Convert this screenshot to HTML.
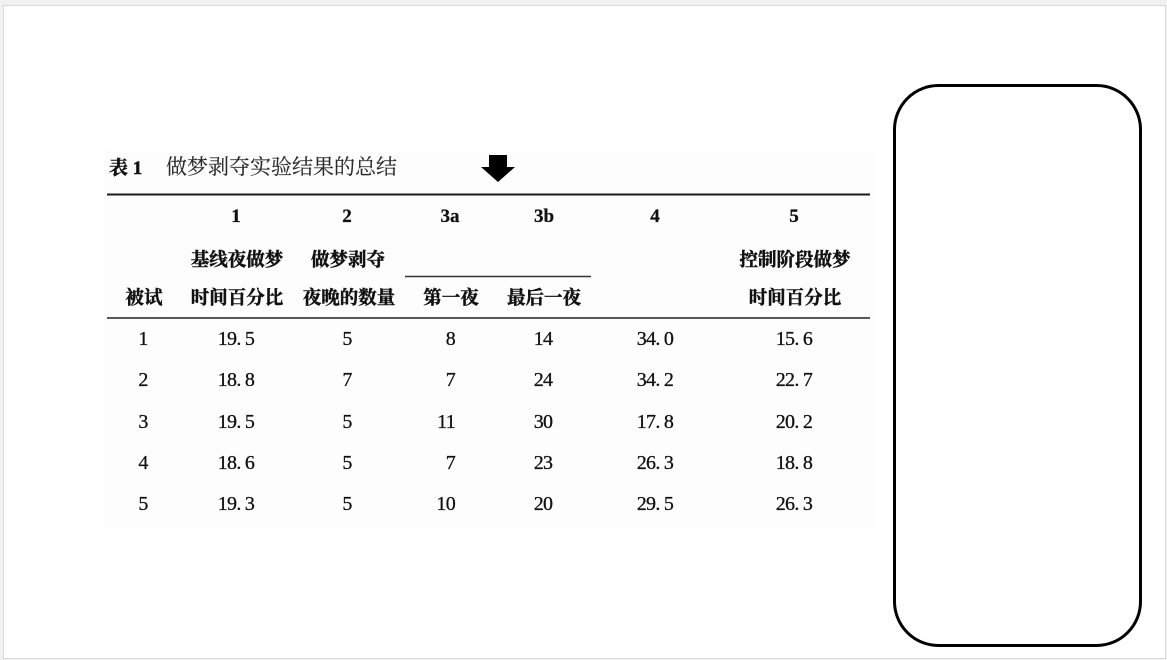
<!DOCTYPE html>
<html lang="zh">
<head>
<meta charset="utf-8">
<title>做梦剥夺实验结果的总结</title>
<style>
html,body{margin:0;padding:0;width:1167px;height:660px;overflow:hidden;background:#f1f1f1}
svg{display:block;position:absolute;left:0;top:0}
text{filter:blur(.35px)}
.num{font-family:"Liberation Serif","Noto Serif CJK SC",serif;font-size:20px;letter-spacing:-.7px;fill:#111;stroke:#111;stroke-width:.3px;text-anchor:middle}
.end{text-anchor:end}
.colnum{font-family:"Liberation Serif","Noto Serif CJK SC",serif;font-size:19px;font-weight:bold;fill:#111;stroke:#111;stroke-width:.3px;text-anchor:middle}
.head{font-family:"Liberation Serif","Noto Serif CJK SC",serif;font-size:18.5px;font-weight:bold;fill:#111;stroke:#111;stroke-width:.45px;text-anchor:middle}
.title{font-family:"Liberation Serif","Noto Serif CJK SC",serif;font-size:21px;fill:#2a2a2a;stroke:#2a2a2a;stroke-width:.15px}
</style>
</head>
<body>
<svg width="1167" height="660" viewBox="0 0 1167 660" xmlns="http://www.w3.org/2000/svg">
  <rect x="3" y="5" width="1163" height="654" fill="#d9d9d9"/>
  <rect x="4" y="6" width="1161" height="652" fill="#ffffff"/>
  <rect x="105" y="148" width="770" height="380" fill="#fdfdfd"/>

  <g>
    <text class="head" x="109" y="174" style="text-anchor:start;font-size:19px">表 1</text>
    <text class="title" x="166" y="174">做梦剥夺实验结果的总结</text>
  </g>

  <polygon points="489,155 507,155 507,167 515,167 498,182 481,167 489,167" fill="#000"/>

  <line x1="107" y1="194.5" x2="870" y2="194.5" stroke="#1c1c1c" stroke-width="2"/>
  <line x1="405" y1="276.5" x2="591" y2="276.5" stroke="#333" stroke-width="1.4"/>
  <line x1="107" y1="318" x2="870" y2="318" stroke="#222" stroke-width="1.6"/>

  <g>
    <text class="colnum" x="236" y="222">1</text>
    <text class="colnum" x="347" y="222">2</text>
    <text class="colnum" x="450" y="222">3a</text>
    <text class="colnum" x="544" y="222">3b</text>
    <text class="colnum" x="655" y="222">4</text>
    <text class="colnum" x="794" y="222">5</text>
  </g>

  <g>
    <text class="head" x="237" y="266">基线夜做梦</text>
    <text class="head" x="348" y="266">做梦剥夺</text>
    <text class="head" x="795" y="266">控制阶段做梦</text>
    <text class="head" x="144" y="304">被试</text>
    <text class="head" x="237" y="304">时间百分比</text>
    <text class="head" x="349" y="304">夜晚的数量</text>
    <text class="head" x="451" y="304">第一夜</text>
    <text class="head" x="544" y="304">最后一夜</text>
    <text class="head" x="795" y="304">时间百分比</text>
  </g>

  <g>
    <text class="num" x="143" y="345">1</text>
    <text class="num" x="236" y="345">19. 5</text>
    <text class="num" x="347" y="345">5</text>
    <text class="num end" x="455" y="345">8</text>
    <text class="num" x="543" y="345">14</text>
    <text class="num" x="655" y="345">34. 0</text>
    <text class="num" x="794" y="345">15. 6</text>
  </g>
  <g>
    <text class="num" x="143" y="386">2</text>
    <text class="num" x="236" y="386">18. 8</text>
    <text class="num" x="347" y="386">7</text>
    <text class="num end" x="455" y="386">7</text>
    <text class="num" x="543" y="386">24</text>
    <text class="num" x="655" y="386">34. 2</text>
    <text class="num" x="794" y="386">22. 7</text>
  </g>
  <g>
    <text class="num" x="143" y="428">3</text>
    <text class="num" x="236" y="428">19. 5</text>
    <text class="num" x="347" y="428">5</text>
    <text class="num end" x="455" y="428">11</text>
    <text class="num" x="543" y="428">30</text>
    <text class="num" x="655" y="428">17. 8</text>
    <text class="num" x="794" y="428">20. 2</text>
  </g>
  <g>
    <text class="num" x="143" y="469">4</text>
    <text class="num" x="236" y="469">18. 6</text>
    <text class="num" x="347" y="469">5</text>
    <text class="num end" x="455" y="469">7</text>
    <text class="num" x="543" y="469">23</text>
    <text class="num" x="655" y="469">26. 3</text>
    <text class="num" x="794" y="469">18. 8</text>
  </g>
  <g>
    <text class="num" x="143" y="510">5</text>
    <text class="num" x="236" y="510">19. 3</text>
    <text class="num" x="347" y="510">5</text>
    <text class="num end" x="455" y="510">10</text>
    <text class="num" x="543" y="510">20</text>
    <text class="num" x="655" y="510">29. 5</text>
    <text class="num" x="794" y="510">26. 3</text>
  </g>

  <rect x="894.5" y="85.5" width="246" height="560" rx="44" ry="44" fill="#fff" stroke="#000" stroke-width="3"/>
</svg>
</body>
</html>
